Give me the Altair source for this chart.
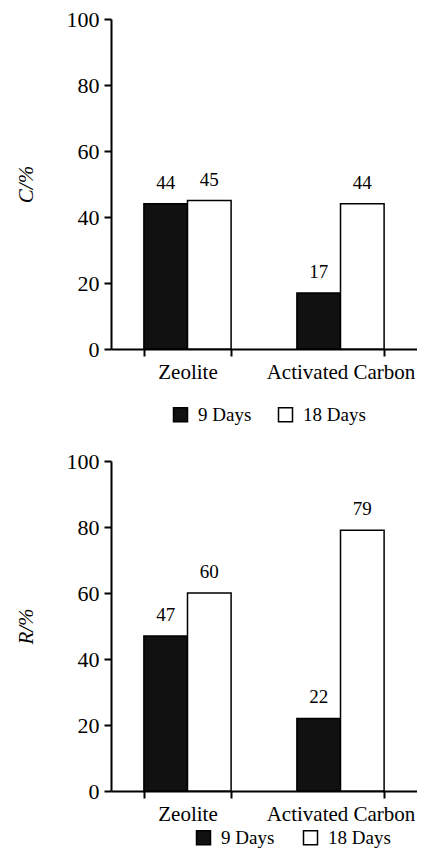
import altair as alt
import pandas as pd

materials = ["Zeolite", "Activated Carbon"]
days = ["9 Days", "18 Days"]
c_9 = [44, 17]
c_18 = [45, 44]
r_9 = [47, 22]
r_18 = [60, 79]

FONT = "Times New Roman, Liberation Serif, DejaVu Serif, serif"


def make_df(v9, v18):
    rows = []
    for i, m in enumerate(materials):
        rows.append({"Material": m, "Days": days[0], "Value": v9[i]})
        rows.append({"Material": m, "Days": days[1], "Value": v18[i]})
    return pd.DataFrame(rows)


def panel(df, ytitle, lx, ly, colpad):
    base = alt.Chart(df).encode(
        x=alt.X(
            "Material:N",
            sort=materials,
            scale=alt.Scale(paddingInner=0.43, paddingOuter=0.215),
            axis=alt.Axis(title=None, labelAngle=0, tickBand="extent",
                          labelPadding=5, labelFontSize=21),
        ),
        xOffset=alt.XOffset("Days:N", sort=days, scale=alt.Scale(paddingInner=0, paddingOuter=0)),
        y=alt.Y(
            "Value:Q",
            scale=alt.Scale(domain=[0, 100]),
            axis=alt.Axis(values=[0, 20, 40, 60, 80, 100], title=ytitle,
                          titleFontStyle="italic", titleFontWeight="normal",
                          titleFontSize=21, titlePadding=30, labelFontSize=22,
                          labelPadding=5, grid=False),
        ),
    )
    bars = base.mark_bar(stroke="black", strokeWidth=1.5).encode(
        color=alt.Color(
            "Days:N",
            sort=days,
            scale=alt.Scale(domain=days, range=["#111111", "#ffffff"]),
            legend=alt.Legend(
                title=None, orient="none", direction="horizontal",
                legendX=lx, legendY=ly, symbolType="square", symbolSize=196,
                symbolStrokeColor="black", symbolStrokeWidth=1.5,
                labelFont=FONT, labelFontSize=19, labelColor="black",
                labelOffset=8, columnPadding=colpad,
            ),
        )
    )
    labels = base.mark_text(font=FONT, fontSize=19, dy=-21, baseline="middle",
                            color="black").encode(text=alt.Text("Value:Q"))
    return alt.layer(bars, labels).properties(width=306, height=330)


top = panel(make_df(c_9, c_18), "C/%", 60, 386, 23)
bottom = panel(make_df(r_9, r_18), "R/%", 83, 367, 25)

chart = (
    alt.vconcat(top, bottom, spacing=25)
    .resolve_scale(color="independent")
    .resolve_legend(color="independent")
    .properties(padding={"left": 7, "top": 0, "right": 0, "bottom": 0})
    .configure_view(stroke=None)
    .configure_axis(
        domainColor="black", domainWidth=2, tickColor="black", tickWidth=2,
        tickSize=7, labelFont=FONT, titleFont=FONT, labelColor="black",
        titleColor="black",
    )
)

chart.save("out.html", embed_options={"renderer": "svg", "actions": False})
